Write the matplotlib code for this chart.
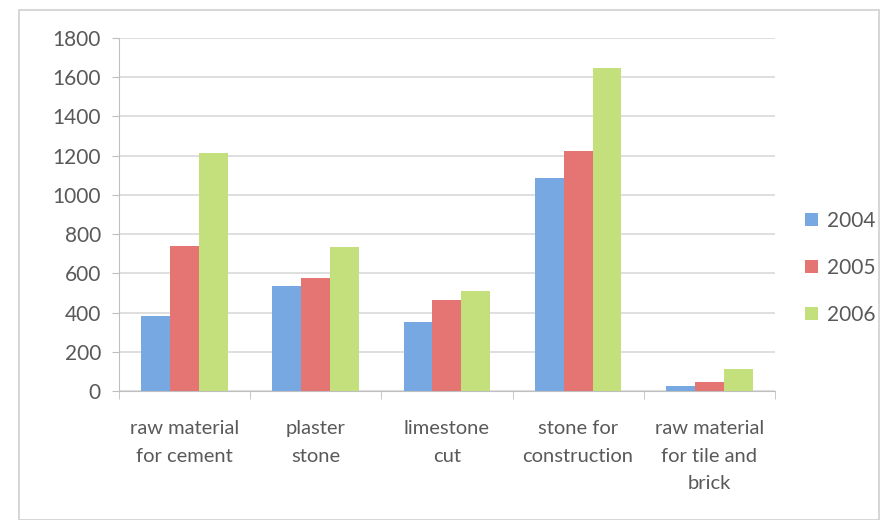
import matplotlib.pyplot as plt
import numpy as np

categories = ["raw material\nfor cement", "plaster\nstone", "limestone\ncut",
              "stone for\nconstruction", "raw material\nfor tile and\nbrick"]
years = ["2004", "2005", "2006"]
v2004 = [382, 535, 352, 1088, 25]
v2005 = [740, 576, 464, 1222, 48]
v2006 = [1212, 735, 510, 1645, 112]
colors = ["#77a8e2", "#e57573", "#c3e07c"]

plt.rcParams['font.family'] = ['Lato', 'DejaVu Sans']
txt = "#595959"

fig = plt.figure(figsize=(8.91, 5.2), dpi=100)
ax = fig.add_axes([0.1336, 0.248, 0.736, 0.679])

x = np.arange(len(categories))
w = 0.22
for i, vals in enumerate([v2004, v2005, v2006]):
    ax.bar(x + (i - 1) * w, vals, w, color=colors[i], label=years[i], zorder=3)

ax.set_xlim(-0.5, len(categories) - 0.5)
ax.set_ylim(0, 1800)
ax.set_yticks(range(0, 1801, 200))
ax.yaxis.grid(True, color="#d9d9d9", linewidth=1.2, zorder=0)
ax.set_xticks(x)
ax.set_xticklabels(categories, fontsize=14.5, color=txt, linespacing=1.75)
ax.set_xticks(np.arange(-0.5, len(categories), 1), minor=True)
ax.tick_params(axis="x", which="major", length=0, pad=21)
ax.tick_params(axis="x", which="minor", length=6, color="#bfbfbf")
ax.tick_params(axis="y", labelsize=15, labelcolor=txt, length=5, color="#bfbfbf", pad=8)
for s in ["top", "right"]:
    ax.spines[s].set_visible(False)
for s in ["left", "bottom"]:
    ax.spines[s].set_color("#bfbfbf")

leg = fig.legend(loc="center left", bbox_to_anchor=(0.904, 0.485), frameon=False,
                 fontsize=15, handlelength=0.6, handleheight=0.6, handletextpad=0.45,
                 labelspacing=1.3, borderaxespad=0, borderpad=0)
for t in leg.get_texts():
    t.set_color(txt)

fig.patches.append(plt.Rectangle((0.021, 0.0), 0.966, 0.98, transform=fig.transFigure,
                                 fill=False, edgecolor="#d0d0d0", linewidth=1.2))

fig.savefig("out.png", dpi=100)
